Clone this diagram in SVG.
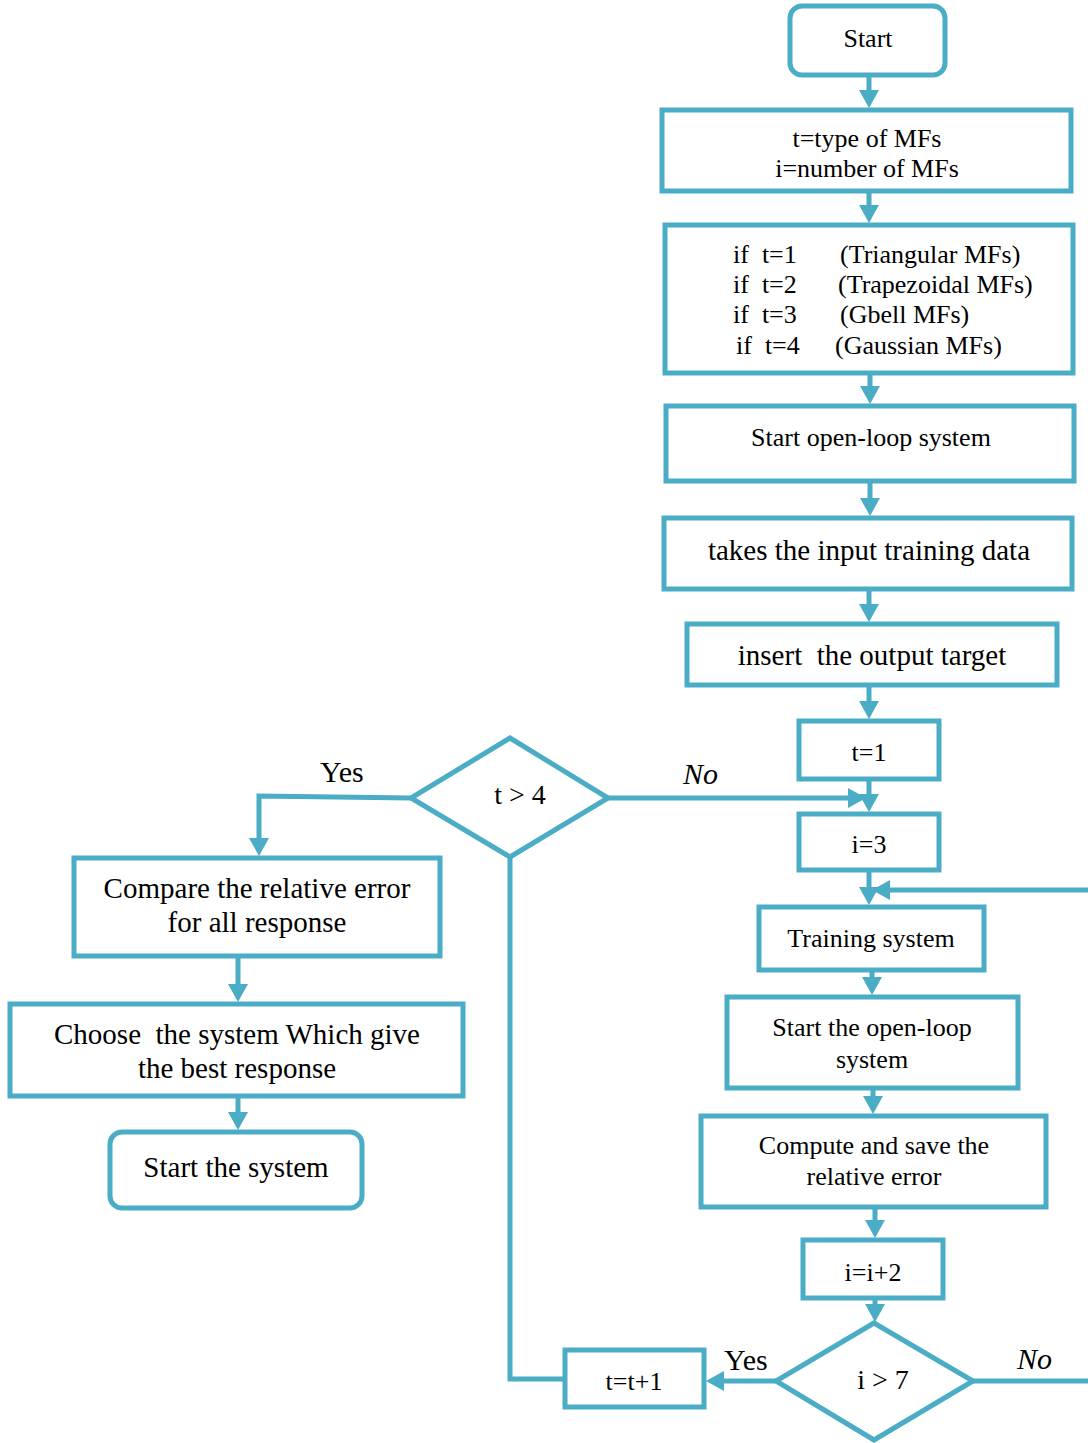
<svg xmlns="http://www.w3.org/2000/svg" width="1088" height="1443" viewBox="0 0 1088 1443" xml:space="preserve">
<style>
.n{fill:#fff;stroke:#4BACC6;stroke-width:5}
.c{fill:none;stroke:#4BACC6;stroke-width:5}
text{font-family:"Liberation Serif","Times New Roman",serif;fill:#000;white-space:pre}
.r{font-size:26px;text-anchor:middle}
.r2{font-size:29px;text-anchor:middle}
.l{font-size:29px;text-anchor:middle}
.s{font-size:26px}
.lab{font-size:30px}
.it{font-style:italic}
</style>
<defs>
<marker id="ah" markerUnits="userSpaceOnUse" viewBox="0 0 18 20" refX="11" refY="10" markerWidth="18" markerHeight="20" orient="auto">
<path d="M0,0 L18,10 L0,20 z" fill="#4BACC6"/>
</marker>
</defs>
<rect width="1088" height="1443" fill="#fff"/>
<g id="connectors">
<path class="c" d="M869,76 V101" marker-end="url(#ah)"/>
<path class="c" d="M869,193 V216" marker-end="url(#ah)"/>
<path class="c" d="M870,375 V397" marker-end="url(#ah)"/>
<path class="c" d="M870,483 V509" marker-end="url(#ah)"/>
<path class="c" d="M869,591 V615" marker-end="url(#ah)"/>
<path class="c" d="M869,687 V712" marker-end="url(#ah)"/>
<path class="c" d="M869,781 V805" marker-end="url(#ah)"/>
<path class="c" d="M608,798 H859" marker-end="url(#ah)"/>
<path class="c" d="M869,872 V898" marker-end="url(#ah)"/>
<path class="c" d="M1088,890 H879" marker-end="url(#ah)"/>
<path class="c" d="M872,972 V988" marker-end="url(#ah)"/>
<path class="c" d="M873,1090 V1107" marker-end="url(#ah)"/>
<path class="c" d="M875,1209 V1231" marker-end="url(#ah)"/>
<path class="c" d="M875,1300 V1315" marker-end="url(#ah)"/>
<path class="c" d="M776,1381 H713" marker-end="url(#ah)"/>
<path class="c" d="M563,1379 H510 V857"/>
<path class="c" d="M973,1381 H1088"/>
<path class="c" d="M411,798 L259,796 V849" marker-end="url(#ah)"/>
<path class="c" d="M238,958 V995" marker-end="url(#ah)"/>
<path class="c" d="M238,1098 V1123" marker-end="url(#ah)"/>
</g>
<g id="start"><rect class="n" x="790" y="6" width="155" height="69" rx="12"/><text class="r" x="868" y="47">Start</text></g>
<g id="types"><rect class="n" x="662" y="110" width="409" height="81"/><text class="r" x="867" y="147">t=type of MFs</text><text class="r" x="867" y="177">i=number of MFs</text></g>
<g id="cases"><rect class="n" x="665" y="225" width="408" height="148"/>
<text class="s" x="733" y="263">if  t=1</text><text class="s" x="840" y="263">(Triangular MFs)</text>
<text class="s" x="733" y="293">if  t=2</text><text class="s" x="838" y="293">(Trapezoidal MFs)</text>
<text class="s" x="733" y="323">if  t=3</text><text class="s" x="840" y="323">(Gbell MFs)</text>
<text class="s" x="736" y="354">if  t=4</text><text class="s" x="835" y="354">(Gaussian MFs)</text></g>
<g id="openloop"><rect class="n" x="666" y="406" width="408" height="75"/><text class="r" x="871" y="446">Start open-loop system</text></g>
<g id="takes"><rect class="n" x="664" y="518" width="408" height="71"/><text class="r2" x="869" y="560">takes the input training data</text></g>
<g id="insert"><rect class="n" x="687" y="624" width="370" height="61"/><text class="r2" x="872" y="665">insert  the output target</text></g>
<g id="t1"><rect class="n" x="799" y="721" width="140" height="58"/><text class="r" x="869" y="761">t=1</text></g>
<g id="i3"><rect class="n" x="799" y="814" width="140" height="56"/><text class="r" x="869" y="853">i=3</text></g>
<g id="training"><rect class="n" x="759" y="907" width="225" height="63"/><text class="r" x="871" y="947">Training system</text></g>
<g id="startol"><rect class="n" x="727" y="997" width="291" height="91"/><text class="r" x="872" y="1036">Start the open-loop</text><text class="r" x="872" y="1068">system</text></g>
<g id="compute"><rect class="n" x="701" y="1116" width="345" height="91"/><text class="r" x="874" y="1154">Compute and save the</text><text class="r" x="874" y="1185">relative error</text></g>
<g id="iinc"><rect class="n" x="803" y="1240" width="140" height="58"/><text class="r" x="873" y="1281">i=i+2</text></g>
<g id="dec_i"><polygon class="n" points="874,1323 973,1381 874,1440 776,1381"/><text class="r" x="883" y="1389" style="font-size:28px">i &gt; 7</text></g>
<g id="tinc"><rect class="n" x="565" y="1350" width="139" height="57"/><text class="r" x="634" y="1390">t=t+1</text></g>
<g id="dec_t"><polygon class="n" points="510,738 608,798 510,857 411,798"/><text class="r" x="520" y="804" style="font-size:28px">t &gt; 4</text></g>
<g id="compare"><rect class="n" x="74" y="858" width="366" height="98"/><text class="l" x="257" y="898">Compare the relative error</text><text class="l" x="257" y="932">for all response</text></g>
<g id="choose"><rect class="n" x="10" y="1004" width="453" height="92"/><text class="l" x="237" y="1044">Choose  the system Which give</text><text class="l" x="237" y="1078">the best response</text></g>
<g id="startsys"><rect class="n" x="110" y="1132" width="252" height="76" rx="12"/><text class="l" x="236" y="1177">Start the system</text></g>
<g id="labels">
<text class="lab" x="320" y="782">Yes</text>
<text class="lab it" x="683" y="784">No</text>
<text class="lab" x="724" y="1370">Yes</text>
<text class="lab it" x="1017" y="1369">No</text>
</g>
</svg>
